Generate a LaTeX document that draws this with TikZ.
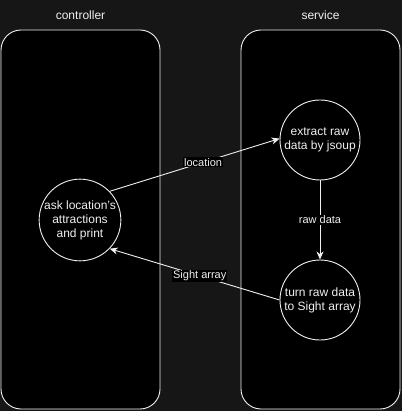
\documentclass[tikz,border=0pt]{standalone}
\usepackage{fontspec}
\setmainfont{Liberation Sans}
\usetikzlibrary{arrows.meta}
\definecolor{canvas}{RGB}{22,22,22}
\definecolor{ink}{RGB}{240,240,240}
\begin{document}
\begin{tikzpicture}[x=1pt,y=-1pt,
  lane/.style={draw=ink,fill=black,rounded corners=20pt,line width=0.9pt},
  proc/.style={circle,draw=ink,fill=black,line width=0.9pt,minimum size=80pt,inner sep=0pt,
    text=ink,font=\fontsize{12}{14}\selectfont,align=center},
  title/.style={text=ink,font=\fontsize{12}{14}\selectfont},
  flow/.style={draw=ink,line width=0.9pt,-{Stealth[length=8pt,width=7pt,inset=2.5pt]}},
  tag/.style={fill=black,text=ink,font=\fontsize{11}{13}\selectfont,inner sep=1pt}]
  % canvas
  \fill[canvas] (0,0) rectangle (402,411);
  \useasboundingbox (0,0) rectangle (402,411);
  % swimlanes
  \draw[lane] (1,30) rectangle (160,409);
  \draw[lane] (241,30) rectangle (400,409);
  \node[title] (tctl) at (80.5,15) {controller};
  \node[title] (tsvc) at (320.5,15) {service};
  % process circles
  \node[proc] (ask) at (80,220) {ask location's\\attractions\\and print};
  \node[proc] (extract) at (320,140) {extract raw\\data by jsoup};
  \node[proc] (turn) at (320,300) {turn raw data\\to Sight array};
  % connectors
  \draw[flow] (ask.44) -- node[tag,pos=0.55] {location} (extract.178);
  \draw[flow] (extract) -- node[tag] {raw data} (turn);
  \draw[flow] (turn.west) -- node[tag,pos=0.47] {Sight array} (ask.-44);
\end{tikzpicture}
\end{document}
